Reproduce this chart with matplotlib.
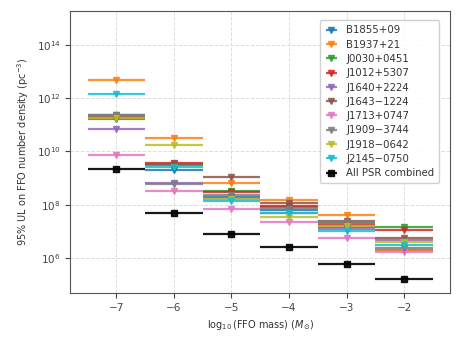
import numpy as np
import matplotlib.pyplot as plt

# FFO mass bins (log10 solar masses)
log_mass = [-7, -6, -5, -4, -3, -2]

# log10 of the 95% UL on FFO number density
psr_names = ['B1855+09', 'B1937+21', 'J0030+0451', 'J1012+5307', 'J1640+2224',
             'J1643\u22121224', 'J1713+0747', 'J1909\u22123744', 'J1918\u22120642', 'J2145\u22120750']
log_ul = {
    'B1855+09':   [11.38, 9.32, 8.30, 7.80, 7.15, 6.28],
    'B1937+21':   [12.68, 10.50, 8.83, 8.18, 7.62, 6.30],
    'J0030+0451': [11.21, 9.50, 8.51, 7.90, 7.30, 7.14],
    'J1012+5307': [11.25, 9.58, 8.49, 7.95, 7.25, 7.05],
    'J1640+2224': [10.85, 8.80, 8.20, 7.70, 7.10, 6.68],
    'J1643\u22121224': [11.30, 9.53, 9.03, 8.06, 7.39, 6.74],
    'J1713+0747': [9.87, 8.53, 7.83, 7.36, 6.74, 6.21],
    'J1909\u22123744': [11.38, 8.78, 8.35, 7.85, 7.35, 6.36],
    'J1918\u22120642': [11.25, 10.25, 8.21, 7.55, 7.20, 6.59],
    'J2145\u22120750': [12.17, 9.40, 8.12, 7.68, 6.99, 6.49],
}
log_combined = [9.33, 7.70, 6.90, 6.40, 5.76, 5.20]

colors = plt.rcParams['axes.prop_cycle'].by_key()['color']

fig = plt.figure(figsize=(4.66, 3.37), dpi=100)
ax = fig.add_axes([0.151, 0.131, 0.815, 0.836])

for i, name in enumerate(psr_names):
    ax.errorbar(log_mass, 10 ** np.array(log_ul[name]), xerr=0.5, fmt='v',
                color=colors[i], ms=5, elinewidth=1.6, label=name, alpha=0.85)
ax.errorbar(log_mass, 10 ** np.array(log_combined), xerr=0.5, fmt='s',
            color='black', ms=5, elinewidth=1.6, label='All PSR combined', alpha=0.9)

ax.set_yscale('log')
ax.set_xlim(-7.8, -1.2)
ax.set_ylim(10 ** 4.68, 10 ** 15.28)
ax.set_yticks([1e6, 1e8, 1e10, 1e12, 1e14])
ax.minorticks_off()
ax.grid(True, ls='--', color='#dddddd', lw=0.7)
ax.tick_params(labelsize=7.5, colors='#444444')
for sp in ax.spines.values():
    sp.set_color('#555555')

ax.set_xlabel(r'$\log_{10}$(FFO mass) ($M_{\odot}$)', fontsize=7, color='#333333')
ax.set_ylabel(r'95% UL on FFO number density (pc$^{-3}$)', fontsize=7, color='#333333')
leg = ax.legend(loc='upper right', fontsize=7.3, handlelength=1.3, labelspacing=0.42,
                borderpad=0.5, framealpha=0.9, markerscale=0.8,
                bbox_to_anchor=(0.985, 0.985))
for t in leg.get_texts():
    t.set_color('#333333')

fig.savefig('out.png', dpi=100)
